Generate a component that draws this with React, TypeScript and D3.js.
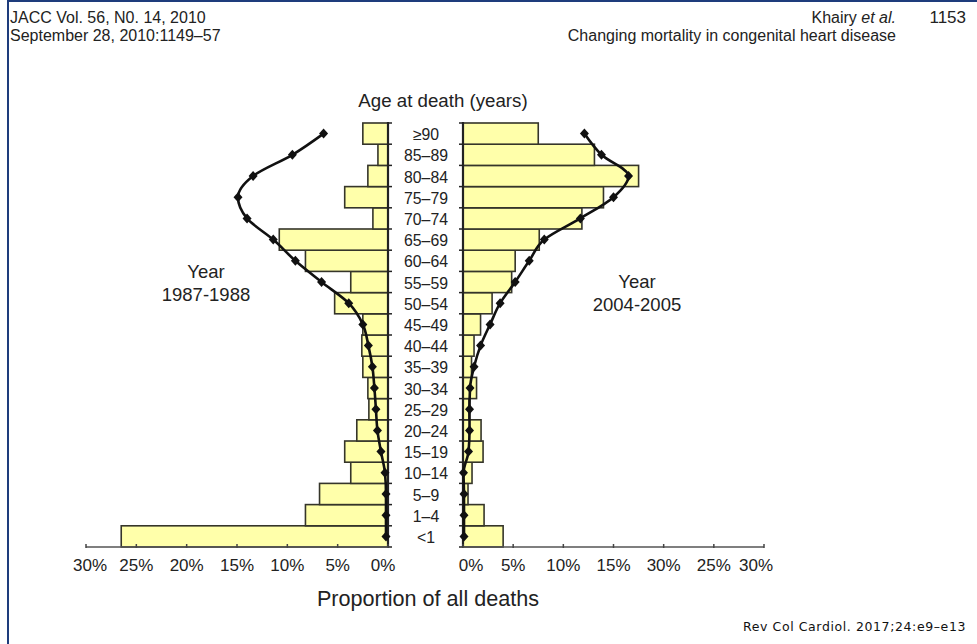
import React from "react";
import * as d3 from "d3";

// ---- Data ----
const ageGroups = ["<1", "1–4", "5–9", "10–14", "15–19", "20–24", "25–29", "30–34", "35–39", "40–44", "45–49", "50–54", "55–59", "60–64", "65–69", "70–74", "75–79", "80–84", "85–89", "≥90"];
// 1987-1988 (left) bars: % of CHD deaths
const bars1987 = [26.5, 8.2, 6.8, 3.7, 4.3, 3.1, 1.9, 2.0, 2.5, 2.6, 2.5, 5.3, 3.7, 8.2, 10.8, 1.5, 4.3, 2.0, 1.0, 2.5];
// 1987-1988 (left) line: general population
const line1987 = [0.2, 0.2, 0.2, 0.3, 0.7, 1.05, 1.2, 1.35, 1.55, 1.95, 2.5, 3.9, 6.6, 9.2, 11.4, 14.0, 14.9, 13.4, 9.5, 6.4];
// 2004-2005 (right) bars
const bars2004 = [4.0, 2.1, 0.5, 0.9, 2.0, 1.8, 0.6, 1.35, 0.85, 1.1, 1.75, 2.9, 4.85, 5.2, 7.6, 11.85, 14.0, 17.5, 13.1, 7.5];
// 2004-2005 (right) line
const line2004 = [0.1, 0.1, 0.1, 0.05, 0.55, 0.65, 0.65, 0.7, 1.1, 1.75, 2.7, 3.7, 5.2, 6.6, 8.1, 11.7, 15.0, 16.5, 13.8, 12.1];

const leftTicks = [30, 25, 20, 15, 10, 5, 0];
const leftTickLabels = ["30%", "25%", "20%", "15%", "10%", "5%", "0%"];
const rightTicks = [0, 5, 10, 15, 20, 25, 30];
const rightTickLabels = ["0%", "5%", "10%", "15%", "30%", "25%", "30%"];

const FONT = "'Liberation Sans', Arial, Helvetica, sans-serif";
const BAR_FILL = "#FFFFAA";
const BAR_STROKE = "#35352a";

export default function App() {
  const W = 977, H = 644;
  const top = 123, bottom = 547;
  const y = d3.scaleBand<string>().domain([...ageGroups].reverse()).range([top, bottom]).padding(0);
  const xL = d3.scaleLinear().domain([0, 30]).range([388, 86]);
  const xR = d3.scaleLinear().domain([0, 30]).range([463, 764]);
  const bw = y.bandwidth();

  const lineL = d3.line<number>()
    .x((d) => xL(d))
    .y((_, i) => (y(ageGroups[i]) as number) + bw / 2)
    .curve(d3.curveMonotoneY);
  const lineR = d3.line<number>()
    .x((d) => xR(d))
    .y((_, i) => (y(ageGroups[i]) as number) + bw / 2)
    .curve(d3.curveMonotoneY);

  const diamond = (cx: number, cy: number, key: string) => (
    <path key={key} d={`M${cx},${cy - 5}L${cx + 4.5},${cy}L${cx},${cy + 5}L${cx - 4.5},${cy}Z`} fill="#111" />
  );

  const boundaries = d3.range(ageGroups.length + 1).map((i) => top + i * bw);
  // end labels sit slightly inward of their ticks in the reference
  const leftShift = (i: number) => (i === 0 ? 4 : i === leftTicks.length - 1 ? -5 : 0);
  const rightShift = (i: number) => (i === 0 ? 8 : i === rightTicks.length - 1 ? -8 : 0);

  return (
    <svg width={W} height={H} style={{ position: "absolute", left: 0, top: 0, background: "#fff" }} fontFamily={FONT}>
      <rect x={0} y={0} width={W} height={H} fill="#fff" />
      {/* frame */}
      <line x1={8} y1={1} x2={W} y2={1} stroke="#1e3c7c" strokeWidth={2} />
      <line x1={8} y1={0} x2={8} y2={H} stroke="#1e3c7c" strokeWidth={2} />

      {/* header */}
      <text x={10} y={23} fontSize={16} fill="#222">JACC Vol. 56, N0. 14, 2010</text>
      <text x={10} y={41} fontSize={16} fill="#222">September 28, 2010:1149–57</text>
      <text x={896} y={23} fontSize={16} fill="#222" textAnchor="end">Khairy <tspan fontStyle="italic">et al.</tspan></text>
      <text x={896} y={41} fontSize={16} fill="#222" textAnchor="end">Changing mortality in congenital heart disease</text>
      <text x={966} y={23} fontSize={17} fill="#222" textAnchor="end">1153</text>

      {/* axis title top */}
      <text x={443} y={107} fontSize={18.7} fill="#222" textAnchor="middle">Age at death (years)</text>

      {/* left bars */}
      {ageGroups.map((g, i) => (
        <rect key={"L" + g} x={xL(bars1987[i])} y={y(g)} width={xL(0) - xL(bars1987[i])} height={bw}
          fill={BAR_FILL} stroke={BAR_STROKE} strokeWidth={1.6} />
      ))}
      {/* right bars */}
      {ageGroups.map((g, i) => (
        <rect key={"R" + g} x={xR(0)} y={y(g)} width={xR(bars2004[i]) - xR(0)} height={bw}
          fill={BAR_FILL} stroke={BAR_STROKE} strokeWidth={1.6} />
      ))}

      {/* vertical axes */}
      <line x1={xL(0)} y1={top - 1} x2={xL(0)} y2={bottom} stroke="#222" strokeWidth={2.2} />
      <line x1={xR(0)} y1={top - 1} x2={xR(0)} y2={bottom} stroke="#222" strokeWidth={2.2} />
      {boundaries.map((b, i) => (
        <g key={"vt" + i}>
          <line x1={xL(0)} y1={b} x2={xL(0) + 4} y2={b} stroke="#222" strokeWidth={1.5} />
          <line x1={xR(0) - 4} y1={b} x2={xR(0)} y2={b} stroke="#222" strokeWidth={1.5} />
        </g>
      ))}

      {/* horizontal axes */}
      <line x1={xL(30)} y1={bottom} x2={xL(0)} y2={bottom} stroke="#555" strokeWidth={1.6} />
      <line x1={xR(0)} y1={bottom} x2={xR(30)} y2={bottom} stroke="#555" strokeWidth={1.6} />
      {leftTicks.map((t, i) => (
        <g key={"lt" + t}>
          <line x1={xL(t)} y1={bottom - 3} x2={xL(t)} y2={bottom + 1} stroke="#444" strokeWidth={1.5} />
          <text x={xL(t) + leftShift(i)} y={571} fontSize={17} fill="#222" textAnchor="middle">{leftTickLabels[i]}</text>
        </g>
      ))}
      {rightTicks.map((t, i) => (
        <g key={"rt" + t}>
          <line x1={xR(t)} y1={bottom - 3} x2={xR(t)} y2={bottom + 1} stroke="#444" strokeWidth={1.5} />
          <text x={xR(t) + rightShift(i)} y={571} fontSize={17} fill="#222" textAnchor="middle">{rightTickLabels[i]}</text>
        </g>
      ))}

      {/* age labels */}
      {ageGroups.map((g) => (
        <text key={"al" + g} x={426} y={(y(g) as number) + bw / 2 + 6.5} fontSize={15.8} fill="#222" textAnchor="middle">{g}</text>
      ))}

      {/* lines */}
      <path d={lineL(line1987) || ""} fill="none" stroke="#111" strokeWidth={2.6} />
      <path d={lineR(line2004) || ""} fill="none" stroke="#111" strokeWidth={2.6} />
      {line1987.map((v, i) => diamond(xL(v), (y(ageGroups[i]) as number) + bw / 2, "dl" + i))}
      {line2004.map((v, i) => diamond(xR(v), (y(ageGroups[i]) as number) + bw / 2, "dr" + i))}

      {/* year labels */}
      <text x={206} y={278} fontSize={18.5} fill="#222" textAnchor="middle">Year</text>
      <text x={206} y={301} fontSize={18.5} fill="#222" textAnchor="middle">1987-1988</text>
      <text x={637} y={288} fontSize={18.5} fill="#222" textAnchor="middle">Year</text>
      <text x={637} y={311} fontSize={18.5} fill="#222" textAnchor="middle">2004-2005</text>

      {/* x title */}
      <text x={428} y={606} fontSize={21.6} fill="#222" textAnchor="middle">Proportion of all deaths</text>

      {/* source */}
      <text x={966} y={631} fontSize={12.5} fill="#111" textAnchor="end" fontFamily="'DejaVu Sans', sans-serif" letterSpacing={0.6}>Rev Col Cardiol. 2017;24:e9–e13</text>
    </svg>
  );
}
